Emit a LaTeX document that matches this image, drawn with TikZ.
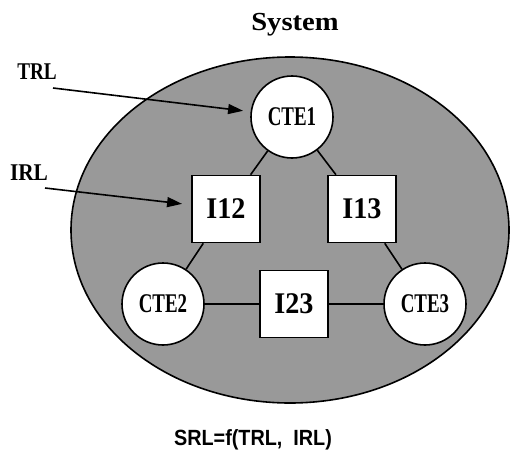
\documentclass[tikz,border=0pt]{standalone}
\usepackage{graphicx}
\usepackage{fontspec}
\setmainfont{Liberation Serif}
\setsansfont{Liberation Sans}
\usetikzlibrary{arrows.meta}
\definecolor{sysgray}{RGB}{153,153,153}
\tikzset{
  ln/.style={line width=1.6pt},
  cte/.style={circle, draw, ln, fill=white, minimum size=82pt, inner sep=0pt,
    font=\bfseries\fontsize{27}{27}\selectfont},
  iface/.style={rectangle, draw, ln, fill=white, minimum width=68pt, minimum height=67pt, inner sep=0pt,
    font=\bfseries\fontsize{30}{30}\selectfont},
  lbl/.style={inner sep=0pt, font=\bfseries\fontsize{24}{24}\selectfont},
  pointer/.style={ln, -{Triangle[length=15pt,width=10pt]}, shorten >=10pt},
}
\begin{document}
\begin{tikzpicture}[x=1pt,y=-1pt]
\useasboundingbox (0,0) rectangle (510,452);
\draw[ln, fill=sysgray] (290,230) ellipse [x radius=219, y radius=173];
\node[inner sep=0pt, font=\bfseries\fontsize{26}{26}\selectfont] (sys) at (295,25) {\scalebox{1.1}[1]{System}};
\node[cte] (cte1) at (292,117) {\scalebox{0.7}[1]{CTE1}};
\node[cte] (cte2) at (163,304) {\scalebox{0.7}[1]{CTE2}};
\node[cte] (cte3) at (425,304) {\scalebox{0.7}[1]{CTE3}};
\node[iface] (i12) at (226,209) {\scalebox{0.94}[1]{I12}};
\node[iface] (i13) at (362,209) {\scalebox{0.94}[1]{I13}};
\node[iface] (i23) at (294,304) {\scalebox{0.94}[1]{I23}};
\draw[ln] (cte1) -- (i12);
\draw[ln] (cte1) -- (i13);
\draw[ln] (i12) -- (cte2);
\draw[ln] (i13) -- (cte3);
\draw[ln] (cte2) -- (i23);
\draw[ln] (i23) -- (cte3);
\node[lbl] (trl) at (37,72) {\scalebox{0.8}[1]{TRL}};
\node[lbl] (irl) at (29,173) {\scalebox{0.89}[1]{IRL}};
\coordinate (trlstart) at (53,88);
\coordinate (irlstart) at (45,188);
\coordinate (trlend) at (253,112);
\coordinate (irlend) at (192,205);
\draw[pointer] (trlstart) -- (trlend);
\draw[pointer] (irlstart) -- (irlend);
\node[inner sep=0pt, font=\sffamily\bfseries\fontsize{22}{22}\selectfont] (srl) at (253,440) {\scalebox{0.9}[1]{SRL=f(TRL,\ \ IRL)}};
\end{tikzpicture}
\end{document}
